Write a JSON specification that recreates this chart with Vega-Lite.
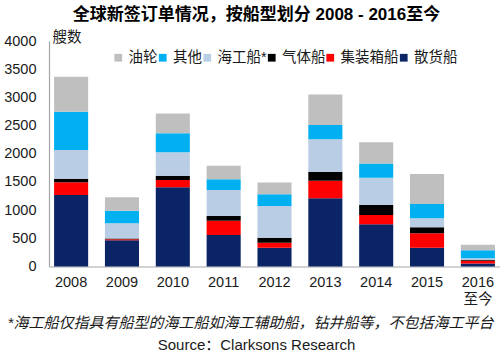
{
  "$schema": "https://vega.github.io/schema/vega-lite/v6.json",
  "width": 451,
  "height": 225.5,
  "autosize": "none",
  "padding": {"left": 49, "top": 41, "right": 0, "bottom": 88.5},
  "background": "white",
  "config": {"view": {"stroke": null}, "font": "Liberation Sans, Noto Sans CJK SC"},
  "title": {"text": "全球新签订单情况，按船型划分 2008 - 2016至今", "fontSize": 17, "fontWeight": "bold", "font": "Liberation Sans, Noto Sans CJK SC", "anchor": "middle", "frame": "group", "dx": -18, "offset": 5, "color": "#000000"},
  "data": {"values": [
    {"year": "2008", "type": "散货船", "value": 1268}, {"year": "2008", "type": "集装箱船", "value": 225}, {"year": "2008", "type": "气体船", "value": 64}, {"year": "2008", "type": "海工船*", "value": 509}, {"year": "2008", "type": "其他", "value": 679}, {"year": "2008", "type": "油轮", "value": 620},
    {"year": "2009", "type": "散货船", "value": 465}, {"year": "2009", "type": "集装箱船", "value": 18}, {"year": "2009", "type": "气体船", "value": 12}, {"year": "2009", "type": "海工船*", "value": 271}, {"year": "2009", "type": "其他", "value": 223}, {"year": "2009", "type": "油轮", "value": 238},
    {"year": "2010", "type": "散货船", "value": 1404}, {"year": "2010", "type": "集装箱船", "value": 130}, {"year": "2010", "type": "气体船", "value": 76}, {"year": "2010", "type": "海工船*", "value": 415}, {"year": "2010", "type": "其他", "value": 337}, {"year": "2010", "type": "油轮", "value": 354},
    {"year": "2011", "type": "散货船", "value": 558}, {"year": "2011", "type": "集装箱船", "value": 254}, {"year": "2011", "type": "气体船", "value": 83}, {"year": "2011", "type": "海工船*", "value": 461}, {"year": "2011", "type": "其他", "value": 190}, {"year": "2011", "type": "油轮", "value": 241},
    {"year": "2012", "type": "散货船", "value": 334}, {"year": "2012", "type": "集装箱船", "value": 89}, {"year": "2012", "type": "气体船", "value": 88}, {"year": "2012", "type": "海工船*", "value": 562}, {"year": "2012", "type": "其他", "value": 207}, {"year": "2012", "type": "油轮", "value": 212},
    {"year": "2013", "type": "散货船", "value": 1209}, {"year": "2013", "type": "集装箱船", "value": 313}, {"year": "2013", "type": "气体船", "value": 159}, {"year": "2013", "type": "海工船*", "value": 574}, {"year": "2013", "type": "其他", "value": 254}, {"year": "2013", "type": "油轮", "value": 544},
    {"year": "2014", "type": "散货船", "value": 748}, {"year": "2014", "type": "集装箱船", "value": 165}, {"year": "2014", "type": "气体船", "value": 177}, {"year": "2014", "type": "海工船*", "value": 485}, {"year": "2014", "type": "其他", "value": 254}, {"year": "2014", "type": "油轮", "value": 373},
    {"year": "2015", "type": "散货船", "value": 334}, {"year": "2015", "type": "集装箱船", "value": 255}, {"year": "2015", "type": "气体船", "value": 106}, {"year": "2015", "type": "海工船*", "value": 160}, {"year": "2015", "type": "其他", "value": 253}, {"year": "2015", "type": "油轮", "value": 532},
    {"year": "2016", "type": "散货船", "value": 55}, {"year": "2016", "type": "集装箱船", "value": 45}, {"year": "2016", "type": "气体船", "value": 20}, {"year": "2016", "type": "海工船*", "value": 25}, {"year": "2016", "type": "其他", "value": 145}, {"year": "2016", "type": "油轮", "value": 95}
  ]},
  "transform": [
    {"calculate": "indexof(['散货船','集装箱船','气体船','海工船*','其他','油轮'], datum.type)", "as": "stackOrder"}
  ],
  "layer": [
    {
      "mark": {"type": "bar"},
      "encoding": {
        "x": {"field": "year", "type": "nominal", "sort": null,
          "scale": {"paddingInner": 0.33, "paddingOuter": 0.1},
          "axis": {"labelAngle": 0, "labelFontSize": 14.5, "labelColor": "#1a1a1a", "labelPadding": 8.5, "labelLineHeight": 17,
            "labelExpr": "datum.label == '2016' ? ['2016', '至今'] : datum.label",
            "ticks": false, "tickSize": 0, "domainColor": "#A6A6A6", "domainWidth": 1.2,
            "title": "*海工船仅指具有船型的海工船如海工辅助船，钻井船等，不包括海工平台",
            "titleFontSize": 15, "titleFontWeight": "normal", "titleFontStyle": "italic", "titleColor": "#1a1a1a",
            "titleX": 201, "titleY": 56, "titleAlign": "center", "titleBaseline": "middle"}},
        "y": {"field": "value", "type": "quantitative", "aggregate": "sum", "stack": "zero",
          "scale": {"domain": [0, 4000]},
          "axis": {"values": [0, 500, 1000, 1500, 2000, 2500, 3000, 3500, 4000], "format": "d", "grid": false, "ticks": false, "tickSize": 0,
            "labelFontSize": 14.5, "labelColor": "#1a1a1a", "labelPadding": 13, "domainColor": "#A6A6A6", "domainWidth": 1.2,
            "title": "艘数", "titleAngle": 0, "titleFontSize": 14.5, "titleFontWeight": "normal", "titleColor": "#1a1a1a",
            "titleX": 3, "titleY": -4, "titleAlign": "left", "titleBaseline": "middle"}},
        "color": {"field": "type", "type": "nominal",
          "scale": {"domain": ["油轮", "其他", "海工船*", "气体船", "集装箱船", "散货船"],
            "range": ["#BFBFBF", "#00B0F0", "#B9CDE5", "#000000", "#FF0000", "#0B2466"]},
          "legend": {"orient": "none", "legendX": 62, "legendY": 9.5, "direction": "horizontal", "title": null,
            "symbolType": "square", "symbolSize": 60, "symbolStrokeWidth": 0, "labelFontSize": 14.5, "labelColor": "#1a1a1a",
            "labelOffset": 3, "columnPadding": -2.5, "gridAlign": "none", "padding": 0}},
        "order": {"field": "stackOrder", "type": "quantitative"}
      }
    },
    {
      "mark": {"type": "point", "opacity": 0},
      "encoding": {
        "x": {"field": "year", "type": "nominal", "sort": null},
        "y": {"field": "value", "type": "quantitative", "scale": {"domain": [0, 4000]},
          "axis": {"orient": "right", "labels": false, "ticks": false, "domain": false, "grid": false,
            "title": "Source：Clarksons Research", "titleAngle": 0, "titleFontSize": 15, "titleFontWeight": "normal", "titleColor": "#1a1a1a",
            "titleX": -244, "titleY": 303, "titleAlign": "center", "titleBaseline": "middle"}}
      }
    }
  ],
  "resolve": {"axis": {"y": "independent"}}
}
